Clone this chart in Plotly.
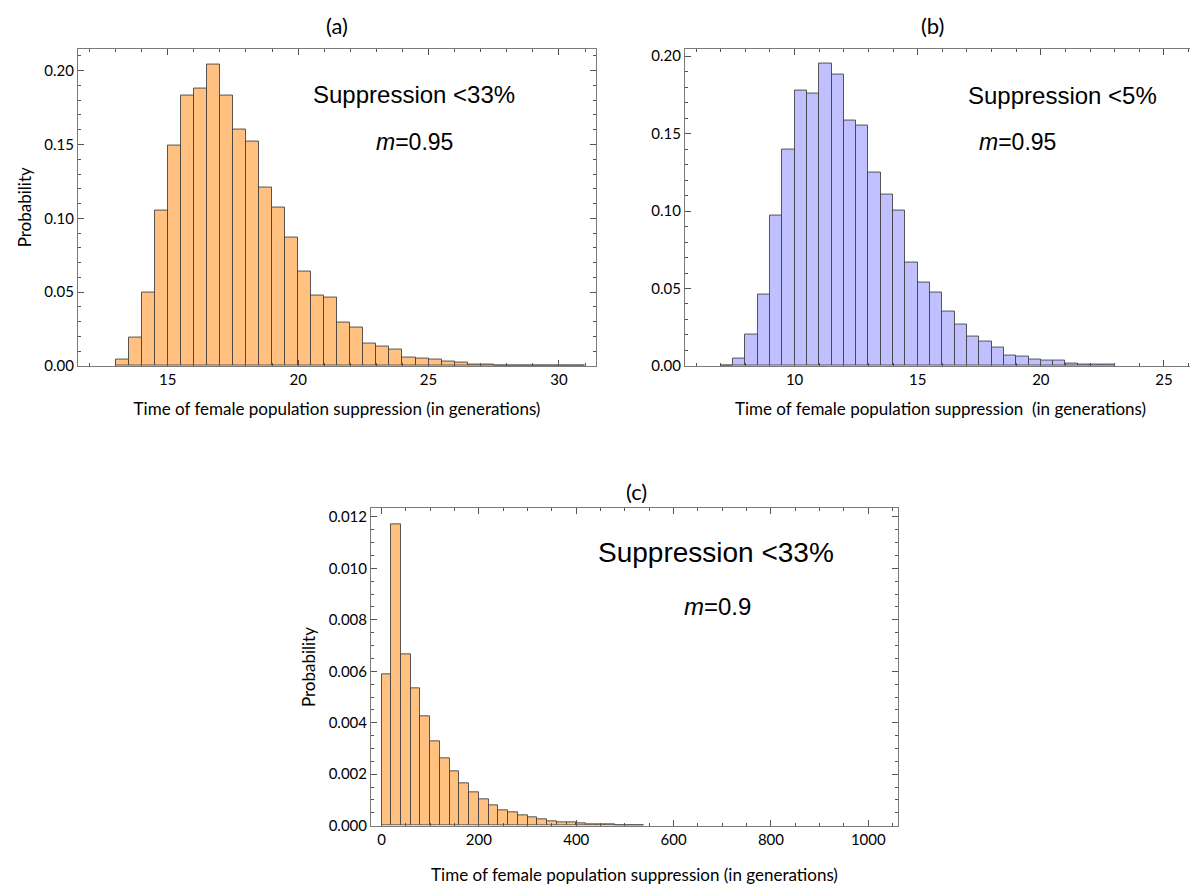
import plotly.graph_objects as go

# ---------------- data ----------------
# (a) Suppression <33%, m=0.95 : bin left edges (width 0.5) and probabilities
a_bin_left = [13.0, 13.5, 14.0, 14.5, 15.0, 15.5, 16.0, 16.5, 17.0, 17.5, 18.0, 18.5,
              19.0, 19.5, 20.0, 20.5, 21.0, 21.5, 22.0, 22.5, 23.0, 23.5, 24.0, 24.5,
              25.0, 25.5, 26.0, 26.5, 27.0, 27.5, 28.0, 28.5, 29.0, 29.5, 30.0, 30.5]
a_prob = [0.004, 0.0192, 0.050, 0.1056, 0.149, 0.183, 0.188, 0.204, 0.183, 0.160, 0.152, 0.121,
          0.107, 0.087, 0.064, 0.0475, 0.046, 0.0295, 0.026, 0.0152, 0.0134, 0.0114, 0.0054, 0.0047,
          0.0045, 0.0031, 0.0020, 0.0007, 0.0009, 0.0004, 0.0004, 0.0002, 0.0001, 0.0001, 0.0001, 0.0006]
a_width = 0.5

# (b) Suppression <5%, m=0.95
b_bin_left = [7.0, 7.5, 8.0, 8.5, 9.0, 9.5, 10.0, 10.5, 11.0, 11.5, 12.0, 12.5, 13.0, 13.5,
              14.0, 14.5, 15.0, 15.5, 16.0, 16.5, 17.0, 17.5, 18.0, 18.5, 19.0, 19.5, 20.0,
              20.5, 21.0, 21.5, 22.0, 22.5]
b_prob = [0.0004, 0.0047, 0.0203, 0.046, 0.097, 0.140, 0.178, 0.176, 0.195, 0.188, 0.1585, 0.155,
          0.1248, 0.1105, 0.100, 0.0665, 0.0536, 0.0472, 0.035, 0.0265, 0.019, 0.0158, 0.012,
          0.0068, 0.0062, 0.0041, 0.0032, 0.0032, 0.0013, 0.0006, 0.0011, 0.0006]
b_width = 0.5

# (c) Suppression <33%, m=0.9
c_bin_left = [0, 20, 40, 60, 80, 100, 120, 140, 160, 180, 200, 220, 240, 260, 280, 300,
              320, 340, 360, 380, 400, 420, 440, 460, 480, 500, 520]
c_prob = [0.00588, 0.01170, 0.00666, 0.00534, 0.00424, 0.00329, 0.00263, 0.00213, 0.00164,
          0.00130, 0.00103, 0.00081, 0.00059, 0.00053, 0.00041, 0.00032, 0.00023, 0.00019,
          0.00014, 0.00012, 0.00008, 0.00006, 0.00005, 0.00004, 0.00003, 0.00002, 0.00001]
c_width = 20

panel_titles = ["(a)", "(b)", "(c)"]
x_title = "Time of female population suppression (in generations)"
x_title_b = "Time of female population suppression  (in generations)"
y_title = "Probability"

# ---------------- figure ----------------
W, H = 1198, 890
ORANGE = "rgb(255,192,128)"
BLUE = "rgb(192,192,255)"
EDGE = "rgba(60,60,60,0.85)"
GILL = "Lato, Open Sans, sans-serif"
TICKFONT = dict(family=GILL, size=15, color="black")
TITLEFONT = dict(family=GILL, size=17, color="black")
ANNFONT = "Liberation Sans, Arial, sans-serif"


def px_dom_x(l, r):
    return [l / W, r / W]


def px_dom_y(t, b):
    return [1 - b / H, 1 - t / H]


def centers(lefts, w):
    return [v + w / 2 for v in lefts]


fig = go.Figure()
fig.add_trace(go.Bar(x=centers(a_bin_left, a_width), y=a_prob, width=a_width,
                     marker=dict(color=ORANGE, line=dict(color=EDGE, width=1)),
                     xaxis="x", yaxis="y", showlegend=False))
fig.add_trace(go.Bar(x=centers(b_bin_left, b_width), y=b_prob, width=b_width,
                     marker=dict(color=BLUE, line=dict(color=EDGE, width=1)),
                     xaxis="x2", yaxis="y2", showlegend=False))
fig.add_trace(go.Bar(x=centers(c_bin_left, c_width), y=c_prob, width=c_width,
                     marker=dict(color=ORANGE, line=dict(color=EDGE, width=1)),
                     xaxis="x3", yaxis="y3", showlegend=False))

AX = dict(showline=True, linecolor="#7a7a7a", linewidth=1, mirror="allticks",
          ticks="inside", ticklen=6, tickcolor="#555", tickwidth=1,
          showgrid=False, zeroline=False, tickfont=TICKFONT,
          minor=dict(ticks="inside", ticklen=3, tickcolor="#555", showgrid=False))

fig.update_layout(
    width=W, height=H, margin=dict(l=0, r=0, t=0, b=0),
    paper_bgcolor="white", plot_bgcolor="white", bargap=0,
    xaxis=dict(AX, domain=px_dom_x(70, 588), anchor="y", range=[11.56, 31.42],
               tickvals=[15, 20, 25, 30], minor=dict(AX["minor"], dtick=1, tick0=0),
               title=dict(text=x_title, font=TITLEFONT, standoff=16)),
    yaxis=dict(AX, domain=px_dom_y(39, 360), anchor="x", range=[0, 0.215],
               dtick=0.05, tick0=0, tickformat=".2f", minor=dict(AX["minor"], dtick=0.01, tick0=0),
               title=dict(text=y_title, font=TITLEFONT, standoff=8)),
    xaxis2=dict(AX, domain=px_dom_x(677, 1188), anchor="y2", range=[5.55, 26.3],
                tickvals=[10, 15, 20, 25], minor=dict(AX["minor"], dtick=1, tick0=0),
                title=dict(text=x_title_b, font=TITLEFONT, standoff=16)),
    yaxis2=dict(AX, domain=px_dom_y(39, 360), anchor="x2", range=[0, 0.2049],
                dtick=0.05, tick0=0, tickformat=".2f", minor=dict(AX["minor"], dtick=0.01, tick0=0)),
    xaxis3=dict(AX, domain=px_dom_x(363, 890), anchor="y3", range=[-21.6, 1061],
                dtick=200, tick0=0, minor=dict(AX["minor"], dtick=50, tick0=0),
                title=dict(text=x_title, font=TITLEFONT, standoff=22)),
    yaxis3=dict(AX, domain=px_dom_y(504, 825), anchor="x3", range=[0, 0.01233],
                dtick=0.002, tick0=0, tickformat=".3f", minor=dict(AX["minor"], dtick=0.0005, tick0=0),
                title=dict(text=y_title, font=TITLEFONT, standoff=8)),
)

anns = [
    dict(text=panel_titles[0], x=329, y=16, size=22, fam=GILL),
    dict(text=panel_titles[1], x=924, y=16, size=22, fam=GILL),
    dict(text=panel_titles[2], x=628, y=487, size=22, fam=GILL),
    dict(text="Suppression &lt;33%", x=406, y=85, size=24, fam=ANNFONT),
    dict(text="<i>m</i>=0.95", x=407, y=133, size=23, fam=ANNFONT),
    dict(text="Suppression &lt;5%", x=1054, y=86, size=24, fam=ANNFONT),
    dict(text="<i>m</i>=0.95", x=1009, y=134, size=23, fam=ANNFONT),
    dict(text="Suppression &lt;33%", x=708, y=549, size=28, fam=ANNFONT),
    dict(text="<i>m</i>=0.9", x=709, y=603, size=24, fam=ANNFONT),
]
for a in anns:
    fig.add_annotation(text=a["text"], x=a["x"] / W, y=1 - a["y"] / H, xref="paper", yref="paper",
                       xanchor="center", yanchor="middle", showarrow=False,
                       font=dict(family=a["fam"], size=a["size"], color="black"))

fig.write_html("out.html")
